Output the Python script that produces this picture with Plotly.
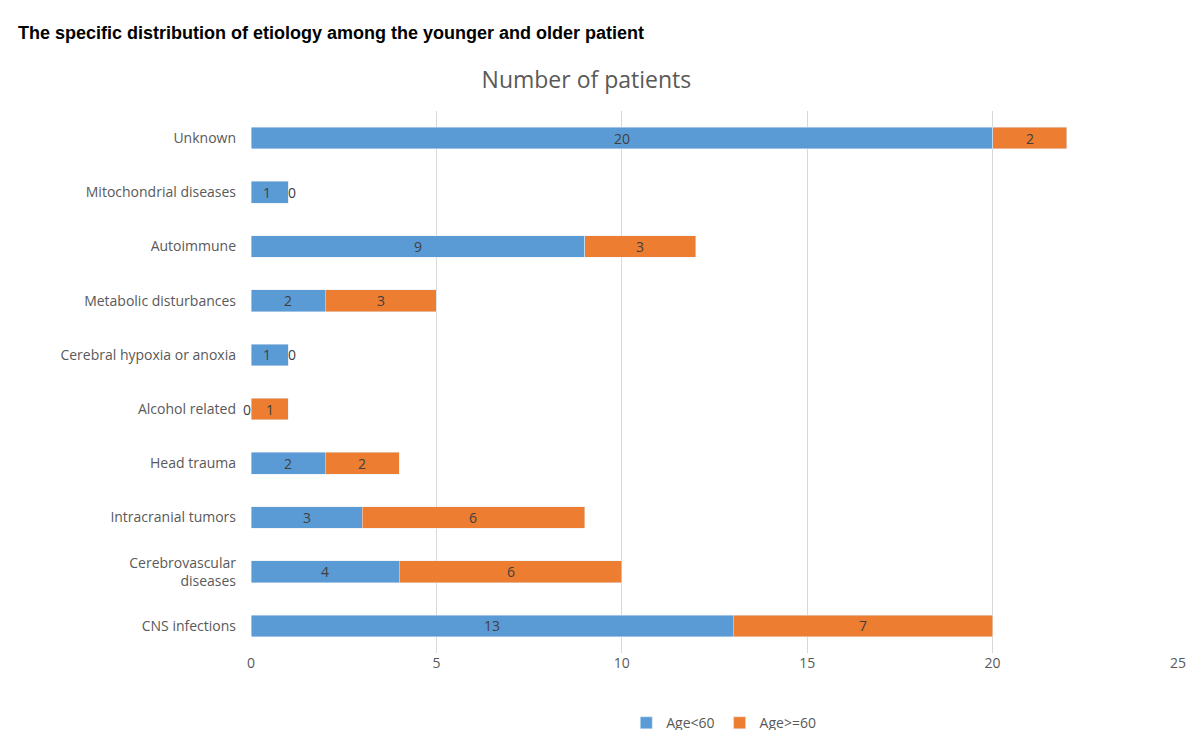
import plotly.graph_objects as go

categories = ["CNS infections", "Cerebrovascular<br>diseases", "Intracranial tumors", "Head trauma",
              "Alcohol related", "Cerebral hypoxia or anoxia", "Metabolic disturbances",
              "Autoimmune", "Mitochondrial diseases", "Unknown"]
young = [13, 4, 3, 2, 0, 1, 2, 9, 1, 20]
old = [7, 6, 6, 2, 1, 0, 3, 3, 0, 2]
x_ticks = [0, 5, 10, 15, 20, 25]

blue, orange = "#5B9BD5", "#ED7D31"
fig = go.Figure()
fig.add_bar(y=categories, x=young, name="Age<60", orientation="h", marker_color=blue)
fig.add_bar(y=categories, x=old, name="Age>=60", orientation="h", marker_color=orange)

ann = []
for c, a, b in zip(categories, young, old):
    ann.append(dict(x=a / 2, y=c, text=str(a), showarrow=False, xref="x", yref="y",
                    xshift=-4 if a == 0 else (-3 if b == 0 else 0),
                    font=dict(size=14, color="#404040")))
    ann.append(dict(x=a + b / 2, y=c, text=str(b), showarrow=False, xref="x", yref="y",
                    xshift=4 if b == 0 else 0,
                    font=dict(size=14, color="#404040")))
ann.append(dict(x=-0.2535, y=1.144, xref="paper", yref="paper", xanchor="left", yanchor="middle",
                text="<b>The specific distribution of etiology among the younger and older patient</b>",
                showarrow=False, font=dict(family="Liberation Sans", size=18, color="black")))
fig.update_layout(
    width=1200, height=730, barmode="stack", bargap=0.6,
    paper_bgcolor="white", plot_bgcolor="white",
    font=dict(family="Open Sans", size=14, color="#595959"),
    margin=dict(l=243, r=30, t=103, b=85, autoexpand=False),
    title=dict(text="Number of patients", x=0.482, xanchor="center", y=0.902, yanchor="middle",
               font=dict(size=23, color="#595959")),
    xaxis=dict(range=[0, 25], tickvals=x_ticks, showgrid=True, gridcolor="#D9D9D9",
               zeroline=False, showline=False, automargin=False),
    yaxis=dict(showgrid=False, ticks="", ticklabelstandoff=14, automargin=False),
    legend=dict(orientation="h", x=0.51, xanchor="center", y=-0.1, yanchor="top",
                traceorder="normal", font=dict(size=14, color="#595959")),
    annotations=ann,
)
fig.write_html("out.html")
